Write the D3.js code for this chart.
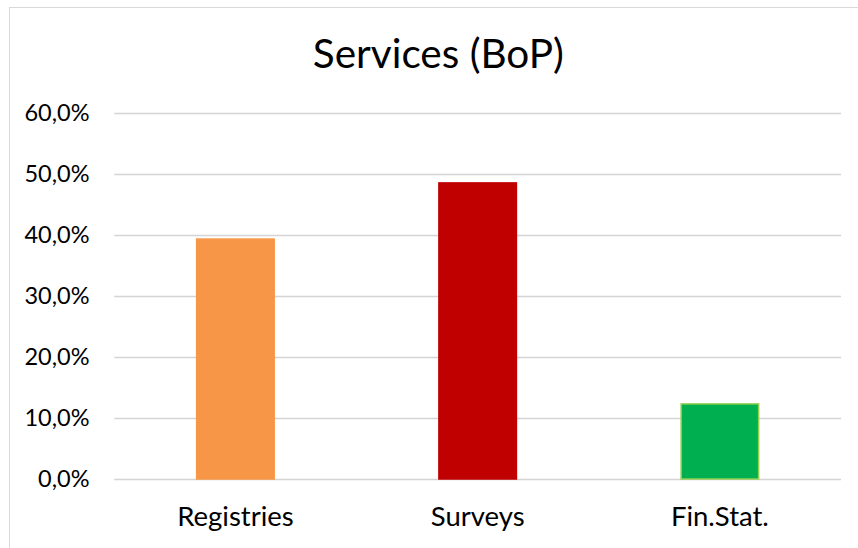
<!DOCTYPE html>
<html>
<head>
<meta charset="utf-8">
<script src="https://cdn.jsdelivr.net/npm/d3@7"></script>
<style>
  html, body { margin: 0; padding: 0; background: #fff; }
  svg { display: block; font-family: Lato, "Open Sans", sans-serif; }
</style>
</head>
<body>
<svg id="chart" width="858" height="548"></svg>
<script>
// Share of services (BoP) by data source
const categories = ["Registries", "Surveys", "Fin.Stat."];
const shares = [39.3, 48.5, 12.3];
const fills = ["#F79646", "#C00000", "#00B050"];
const strokes = ["#F79646", "#C00000", "#92D050"];
const yTicks = [0, 10, 20, 30, 40, 50, 60];
const chartTitle = "Services (BoP)";

const svg = d3.select("#chart");
const W = 858, H = 548;
const plot = { left: 114.3, right: 841, top: 112.7, bottom: 479 };

// chart frame
svg.append("rect")
  .attr("x", 9.5).attr("y", 7.5)
  .attr("width", W + 10).attr("height", H + 10)
  .attr("fill", "#fff")
  .attr("stroke", "#d9d9d9").attr("stroke-width", 1);

const x = d3.scaleBand()
  .domain(categories)
  .range([plot.left, plot.right])
  .paddingInner(0.68)
  .paddingOuter(0.34);

const y = d3.scaleLinear()
  .domain([0, 60])
  .range([plot.bottom, plot.top]);

const fmt = v => d3.format(".1f")(v).replace(".", ",") + "%";

// horizontal gridlines
svg.append("g")
  .selectAll("line")
  .data(yTicks)
  .join("line")
  .attr("x1", plot.left).attr("x2", plot.right)
  .attr("y1", d => Math.round(y(d)) + 0.5)
  .attr("y2", d => Math.round(y(d)) + 0.5)
  .attr("stroke", "#d4d4d4").attr("stroke-width", 1.3);

// y-axis labels
const yAxis = d3.axisLeft(y).tickValues(yTicks).tickFormat(fmt).tickSize(0).tickPadding(0);
const gy = svg.append("g").attr("transform", `translate(89.5,0)`).call(yAxis);
gy.select(".domain").remove();
gy.selectAll("text")
  .attr("font-family", "Lato, sans-serif")
  .attr("font-size", 23.5)
  .attr("fill", "#000")
  .attr("dy", "0.32em");

// bars
svg.append("g")
  .selectAll("rect")
  .data(categories)
  .join("rect")
  .attr("x", d => x(d))
  .attr("width", x.bandwidth())
  .attr("y", (d, i) => y(shares[i]))
  .attr("height", (d, i) => y(0) - y(shares[i]))
  .attr("fill", (d, i) => fills[i])
  .attr("stroke", (d, i) => strokes[i])
  .attr("stroke-width", 1.5);

// category axis labels
const xAxis = d3.axisBottom(x).tickSize(0).tickPadding(0);
const gx = svg.append("g").attr("transform", `translate(0,526)`).call(xAxis);
gx.select(".domain").remove();
gx.selectAll("text")
  .attr("font-family", "Lato, sans-serif")
  .attr("font-size", 27.5)
  .attr("fill", "#000")
  .attr("dy", 0)
  .attr("y", 0);

// title
svg.append("text")
  .attr("x", 438.3).attr("y", 67.5)
  .attr("text-anchor", "middle")
  .attr("font-family", "Lato, sans-serif")
  .attr("font-size", 40.5)
  .attr("fill", "#000")
  .text(chartTitle);
</script>
</body>
</html>
